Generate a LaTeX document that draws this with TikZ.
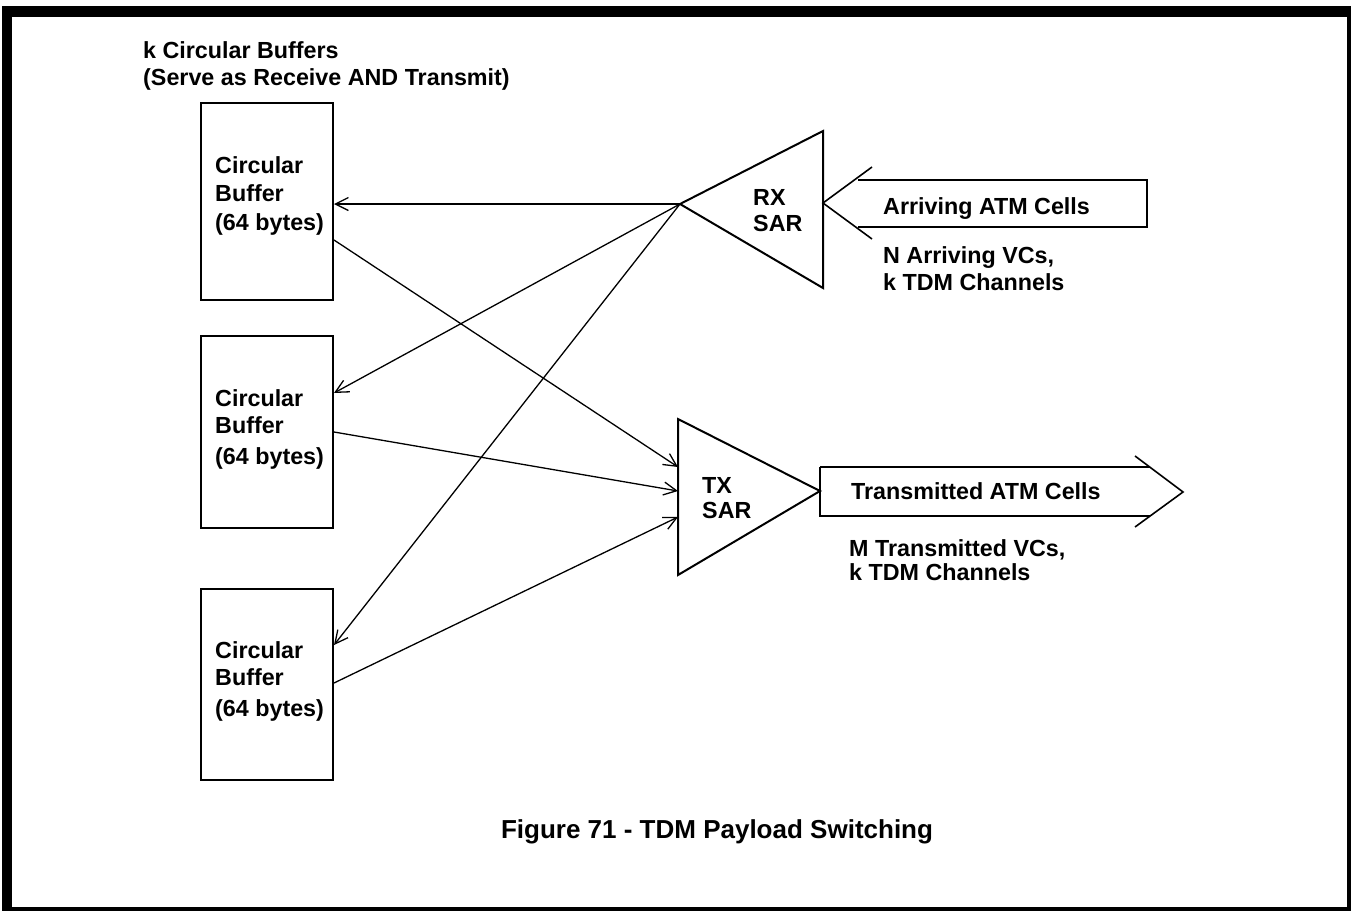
\documentclass[tikz,border=0pt]{standalone}
\usepackage{fontspec}
\setmainfont{Liberation Sans}
\usetikzlibrary{arrows.meta}
\begin{document}
\begin{tikzpicture}[x=1pt,y=-1pt,
  lbl/.style={anchor=base west,inner sep=0pt,font=\fontsize{23.3}{27}\selectfont\bfseries},
  capt/.style={anchor=base,inner sep=0pt,font=\fontsize{26}{30}\selectfont\bfseries},
  bufbox/.style={draw,line width=2pt,minimum width=132pt,minimum height=195pt,inner sep=0pt},
  shape2/.style={draw,line width=2pt,line join=miter},
  fat/.style={draw,line width=1.6pt},
  conn/.style={draw,line width=1.3pt,-{Straight Barb[length=13pt,width=13pt,line width=1.3pt]}}]
\useasboundingbox (0,0) rectangle (1351,911);
% frame
\fill[black] (2,6) rectangle (1351,911);
\fill[white] (12,17) rectangle (1347,907);

% title
\node[lbl] (t1) at (143,58) {k Circular Buffers};
\node[lbl] (t2) at (143,85) {(Serve as Receive AND Transmit)};

% buffers
\node[bufbox,anchor=north west,minimum height=197pt] (b1) at (200,102) {};
\node[bufbox,anchor=north west,minimum height=192pt] (b2) at (200,335) {};
\node[bufbox,anchor=north west,minimum height=191pt] (b3) at (200,588) {};

\node[lbl] (b1a) at (215,173) {Circular};
\node[lbl] (b1b) at (215,201) {Buffer};
\node[lbl] (b1c) at (215,230) {(64 bytes)};
\node[lbl] (b2a) at (215,406) {Circular};
\node[lbl] (b2b) at (215,433) {Buffer};
\node[lbl] (b2c) at (215,464) {(64 bytes)};
\node[lbl] (b3a) at (215,658) {Circular};
\node[lbl] (b3b) at (215,685) {Buffer};
\node[lbl] (b3c) at (215,716) {(64 bytes)};

% RX SAR
\coordinate (rx) at (680,204);
\coordinate (rxt) at (823,131);
\coordinate (rxb) at (823,288);
\coordinate (rxr) at (823,203);
\draw[shape2] (rx) -- (rxt) -- (rxb) -- cycle;
\node[lbl] (rx1) at (753,205) {RX};
\node[lbl] (rx2) at (753,231) {SAR};

% Arriving arrow
\coordinate (ar1) at (872,167);
\coordinate (ar2) at (872,239);
\draw[fat] (ar1) -- (rxr) -- (ar2);
\draw[fat] (858,180) -- (1147,180) -- (1147,227) -- (858,227);
\node[lbl] (arr) at (883,214) {Arriving ATM Cells};
\node[lbl] (n1) at (883,263) {N Arriving VCs,};
\node[lbl] (n2) at (883,290) {k TDM Channels};

% TX SAR
\coordinate (txt) at (678,419);
\coordinate (txb) at (678,575);
\coordinate (tx) at (820,491);
\draw[shape2] (txt) -- (tx) -- (txb) -- cycle;
\node[lbl] (tx1) at (702,493) {TX};
\node[lbl] (tx2) at (702,518) {SAR};

% Transmitted arrow
\draw[fat] (820,467) -- (1150,467);
\draw[fat] (820,467) -- (820,516) -- (1150,516);
\coordinate (tr1) at (1135,456);
\coordinate (tr2) at (1135,527);
\coordinate (trt) at (1183,492);
\draw[fat] (tr1) -- (trt) -- (tr2);
\node[lbl] (trn) at (851,499) {Transmitted ATM Cells};
\node[lbl] (m1) at (849,556) {M Transmitted VCs,};
\node[lbl] (m2) at (849,580) {k TDM Channels};

% connectors
\coordinate (b1in) at (b1.east |- 0,204);
\coordinate (b2in) at (b2.east |- 0,393);
\coordinate (b3in) at (b3.east |- 0,645);
\coordinate (b1out) at (b1.east |- 0,240);
\coordinate (b2out) at (b2.east |- 0,432);
\coordinate (b3out) at (b3.east |- 0,683);
\coordinate (tx1in) at (678,467);
\coordinate (tx2in) at (678,491);
\coordinate (tx3in) at (678,517);
\draw[conn] (rx) -- (b1in);
\draw[conn] (rx) -- (b2in);
\draw[conn] (rx) -- (b3in);
\draw[conn] (b1out) -- (tx1in);
\draw[conn] (b2out) -- (tx2in);
\draw[conn] (b3out) -- (tx3in);

% caption
\node[capt] (cap) at (717,838) {Figure 71 - TDM Payload Switching};
\end{tikzpicture}
\end{document}
